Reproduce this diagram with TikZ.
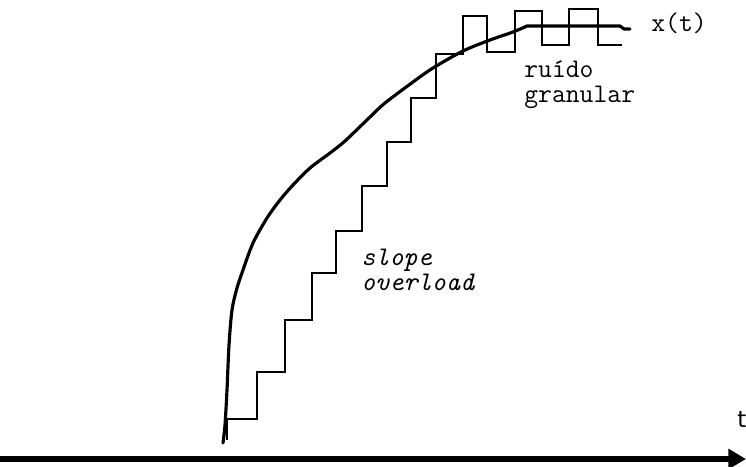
\documentclass[tikz,border=0pt]{standalone}
\usepackage{fontspec}
\setsansfont{DejaVu Sans}
\usetikzlibrary{arrows.meta}
\tikzset{
  stairline/.style={draw=black,line width=0.6pt,line join=miter},
  signal/.style={draw=black,line width=1.8pt,line cap=round,line join=round},
  timeaxis/.style={draw=black,line width=3.4pt,-{Triangle[length=10pt,width=11pt]}},
  lbl/.style={font=\ttfamily\fontsize{15.3}{14.2}\selectfont,inner sep=0pt,align=left},
  lblit/.style={lbl,font=\ttfamily\itshape\fontsize{15.3}{14.2}\selectfont},
}
\begin{document}
\begin{tikzpicture}[x=0.02cm,y=-0.02cm]
  \useasboundingbox (0,0) rectangle (746,466);

  % quantised staircase
  \draw[stairline] (227,440) -- (227,419) -- (257,419) -- (257,372) -- (285,372)
    -- (285,320) -- (312,320) -- (312,273) -- (336,273) -- (336,231) -- (362,231)
    -- (362,186) -- (387,186) -- (387,142) -- (411,142) -- (411,98) -- (436,98)
    -- (436,54) -- (463,54) -- (463,16) -- (487,16) -- (487,52) -- (515,52)
    -- (515,11) -- (542,11) -- (542,45) -- (569,45) -- (569,9) -- (598,9)
    -- (598,45) -- (622,45);

  % input signal
  \draw[signal] plot[smooth,tension=0.5] coordinates {(223,443) (225,425) (227,390)
    (229,345) (232,310) (237,288) (243,270) (253,243) (267,218) (280,200)
    (293,185) (310,168) (330,153) (345,141) (370,117) (385,103) (413,82)
    (433,68) (463,51) (490,40) (513,32) (527,26)}
    -- (620,26) -- (624,29) -- (630,29);

  % time axis
  \coordinate (t0) at (0,459);
  \coordinate (t1) at (746,459);
  \draw[timeaxis] (t0) -- (t1);

  \node[lbl,anchor=base west] (xt) at (651,32) {x(t)};
  \node[lbl,anchor=base west] (rg) at (524,102) {ruído\\granular};
  \node[lblit,anchor=base west] (so) at (361,290) {slope\\overload};
  \node[font=\sffamily\fontsize{13}{15}\selectfont,inner sep=0pt,anchor=base west]
    (tl) at (737,427) {t};
\end{tikzpicture}
\end{document}
